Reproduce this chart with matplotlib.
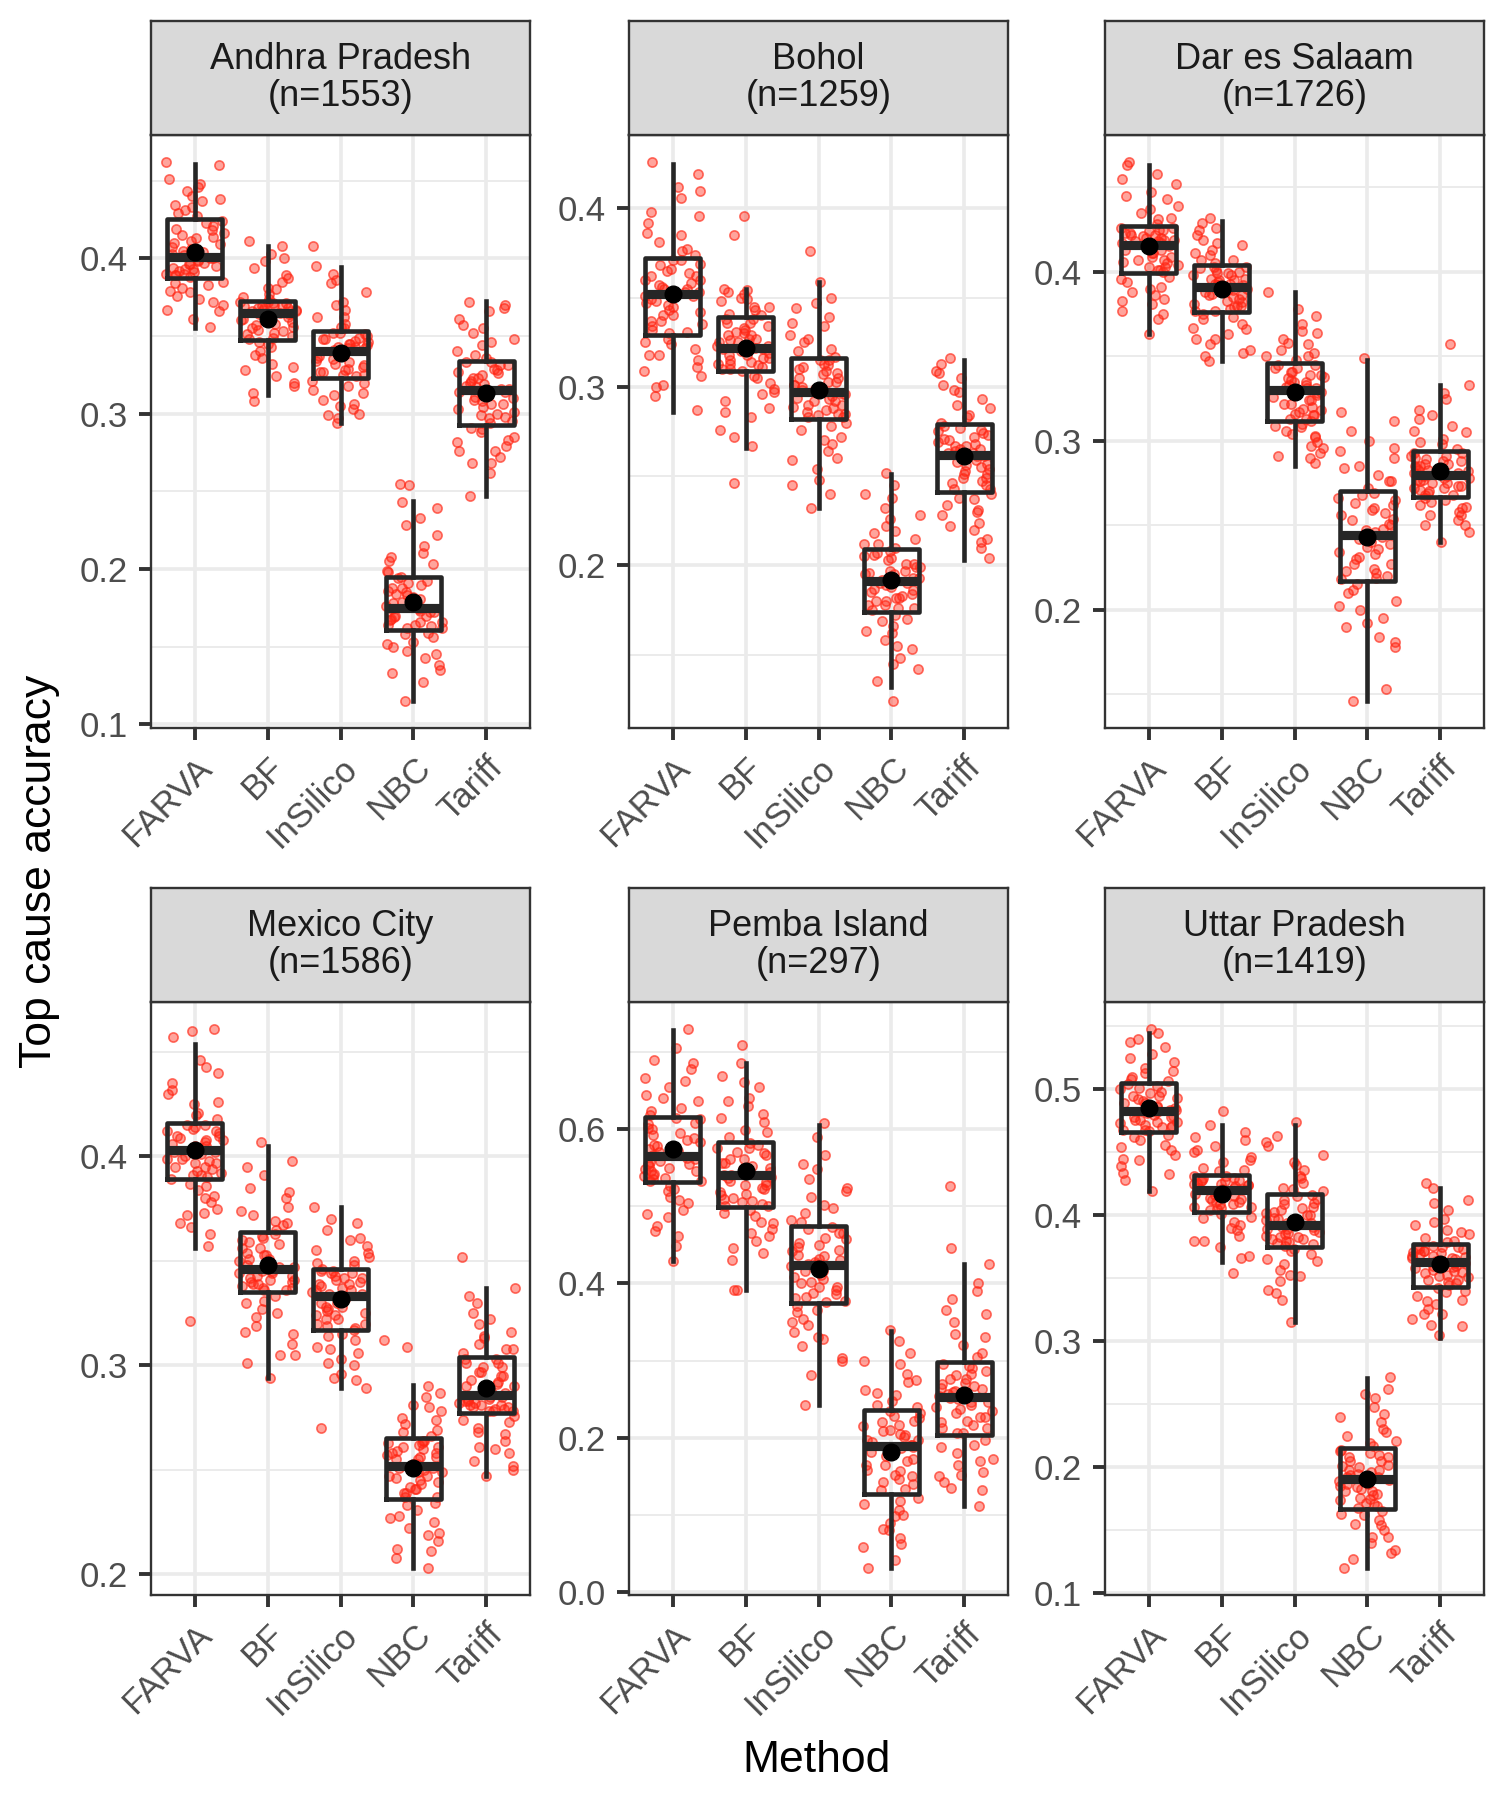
import numpy as np
import matplotlib.pyplot as plt

plt.rcParams['font.family'] = ['Liberation Sans', 'DejaVu Sans']

sites = ['Andhra Pradesh', 'Bohol', 'Dar es Salaam',
         'Mexico City', 'Pemba Island', 'Uttar Pradesh']
n_deaths = [1553, 1259, 1726, 1586, 297, 1419]
methods = ['FARVA', 'BF', 'InSilico', 'NBC', 'Tariff']

# box summaries: one row per site, one value per method
whis_lo = [[0.355, 0.312, 0.294, 0.115, 0.247],
           [0.286, 0.266, 0.232, 0.132, 0.203],
           [0.363, 0.347, 0.285, 0.146, 0.240],
           [0.356, 0.294, 0.289, 0.203, 0.247],
           [0.429, 0.391, 0.243, 0.031, 0.111],
           [0.419, 0.363, 0.315, 0.120, 0.303]]
q1 = [[0.387, 0.3475, 0.323, 0.161, 0.293],
      [0.329, 0.309, 0.282, 0.174, 0.241],
      [0.399, 0.376, 0.3115, 0.217, 0.267],
      [0.389, 0.335, 0.317, 0.236, 0.277],
      [0.531, 0.499, 0.375, 0.127, 0.203],
      [0.466, 0.403, 0.375, 0.167, 0.343]]
median = [[0.401, 0.365, 0.340, 0.175, 0.315],
          [0.352, 0.322, 0.297, 0.191, 0.262],
          [0.416, 0.391, 0.330, 0.244, 0.280],
          [0.403, 0.346, 0.333, 0.252, 0.286],
          [0.565, 0.540, 0.424, 0.189, 0.253],
          [0.483, 0.420, 0.392, 0.191, 0.363]]
q3 = [[0.425, 0.3725, 0.353, 0.195, 0.334],
      [0.372, 0.339, 0.316, 0.209, 0.279],
      [0.427, 0.404, 0.346, 0.270, 0.294],
      [0.416, 0.364, 0.346, 0.265, 0.304],
      [0.616, 0.584, 0.475, 0.236, 0.298],
      [0.505, 0.432, 0.417, 0.215, 0.377]]
whis_hi = [[0.461, 0.408, 0.3945, 0.2435, 0.3725],
           [0.425, 0.355, 0.359, 0.251, 0.315],
           [0.463, 0.430, 0.388, 0.348, 0.333],
           [0.454, 0.405, 0.376, 0.2905, 0.337],
           [0.729, 0.686, 0.605, 0.338, 0.425],
           [0.545, 0.472, 0.472, 0.2705, 0.422]]
means = [[0.404, 0.361, 0.339, 0.179, 0.313],
         [0.352, 0.322, 0.2985, 0.192, 0.261],
         [0.415, 0.390, 0.329, 0.243, 0.282],
         [0.403, 0.348, 0.332, 0.251, 0.289],
         [0.574, 0.546, 0.419, 0.182, 0.256],
         [0.485, 0.417, 0.3945, 0.191, 0.361]]

y_ticks = [[0.1, 0.2, 0.3, 0.4],
           [0.2, 0.3, 0.4],
           [0.2, 0.3, 0.4],
           [0.2, 0.3, 0.4],
           [0.0, 0.2, 0.4, 0.6],
           [0.1, 0.2, 0.3, 0.4, 0.5]]

# individual accuracies (thousandths), estimated from the jittered points
pts_andhra = [
    [462, 460, 451, 446, 443, 440, 437, 434, 431, 427, 424, 421, 419, 416, 414, 411, 409, 406, 404, 402,
     400, 399, 397, 396, 394, 393, 391, 390, 389, 388, 385, 383, 381, 378, 376, 374, 370, 366, 361, 356,
     448, 438, 433, 429, 423, 418, 415, 413, 410, 407, 405, 403, 400, 398, 396, 395, 393, 392, 390, 389,
     384, 379, 372, 367],
    [411, 408, 403, 398, 394, 389, 385, 381, 377, 374, 372, 371, 370, 369, 368, 368, 367, 366, 366, 365,
     364, 362, 360, 358, 356, 355, 353, 351, 350, 348, 346, 343, 340, 336, 332, 328, 324, 318, 313, 308,
     400, 387, 380, 375, 372, 371, 370, 369, 368, 367, 366, 365, 364, 363, 361, 359, 357, 354, 352, 349,
     345, 338, 330, 320],
    [408, 395, 390, 384, 378, 372, 367, 362, 358, 355, 352, 351, 349, 348, 347, 345, 344, 343, 342, 341,
     339, 338, 336, 334, 332, 330, 328, 327, 325, 324, 321, 318, 315, 312, 309, 306, 303, 300, 297, 294,
     386, 370, 362, 356, 352, 350, 348, 346, 345, 343, 342, 341, 339, 337, 335, 333, 331, 329, 327, 325,
     320, 313, 305, 299],
    [255, 254, 243, 239, 233, 222, 215, 208, 203, 198, 195, 192, 190, 188, 186, 184, 182, 180, 178, 176,
     174, 173, 172, 170, 169, 167, 166, 164, 163, 162, 159, 156, 153, 150, 147, 143, 138, 133, 127, 115,
     228, 210, 205, 199, 194, 191, 188, 185, 183, 181, 179, 177, 175, 174, 172, 170, 168, 166, 164, 162,
     158, 152, 145, 135],
    [372, 370, 366, 361, 357, 352, 348, 344, 340, 336, 333, 331, 329, 327, 325, 323, 321, 319, 317, 316,
     314, 312, 310, 308, 306, 304, 301, 299, 297, 294, 291, 288, 285, 282, 279, 276, 272, 268, 262, 247,
     368, 355, 346, 338, 333, 331, 328, 326, 323, 320, 318, 316, 314, 311, 309, 306, 303, 300, 298, 295,
     290, 283, 276, 268]]
pts_bohol = [
    [426, 419, 412, 406, 398, 392, 386, 381, 377, 374, 371, 369, 366, 364, 362, 360, 358, 356, 355, 353,
     351, 349, 347, 345, 342, 340, 337, 335, 332, 330, 327, 324, 321, 318, 315, 311, 306, 301, 295, 287,
     410, 396, 385, 376, 371, 368, 365, 362, 360, 357, 355, 353, 351, 348, 346, 343, 340, 337, 334, 331,
     325, 318, 309, 300],
    [396, 385, 355, 353, 352, 350, 348, 345, 343, 340, 338, 336, 334, 332, 330, 329, 327, 326, 325, 323,
     322, 321, 319, 318, 316, 315, 313, 312, 310, 309, 306, 302, 299, 296, 292, 288, 283, 276, 267, 246,
     354, 349, 345, 341, 338, 336, 333, 331, 329, 327, 325, 323, 321, 320, 318, 316, 314, 313, 311, 310,
     305, 297, 286, 272],
    [376, 359, 350, 344, 339, 334, 329, 325, 321, 317, 315, 313, 311, 309, 307, 305, 303, 301, 300, 298,
     296, 295, 293, 292, 290, 289, 287, 285, 284, 283, 280, 276, 272, 268, 264, 259, 254, 248, 240, 232,
     347, 336, 327, 320, 315, 312, 310, 308, 305, 303, 301, 299, 296, 294, 292, 290, 288, 286, 285, 283,
     278, 270, 260, 245],
    [252, 245, 238, 232, 226, 222, 218, 215, 212, 210, 207, 205, 203, 201, 199, 197, 196, 195, 193, 192,
     190, 189, 187, 185, 183, 182, 180, 178, 176, 175, 172, 169, 166, 162, 158, 153, 148, 142, 135, 124,
     240, 228, 219, 212, 208, 206, 204, 201, 199, 197, 195, 193, 190, 188, 186, 184, 182, 180, 178, 176,
     170, 163, 155, 145],
    [316, 313, 309, 305, 301, 297, 293, 288, 284, 280, 277, 275, 273, 271, 269, 268, 267, 265, 264, 263,
     261, 259, 257, 255, 253, 251, 249, 247, 245, 243, 240, 237, 234, 231, 228, 224, 220, 215, 210, 204,
     308, 298, 290, 283, 278, 276, 274, 272, 270, 267, 265, 263, 261, 258, 256, 254, 251, 249, 246, 243,
     238, 230, 222, 213]]
pts_dar = [
    [465, 463, 458, 452, 447, 443, 439, 435, 432, 428, 426, 425, 424, 423, 422, 421, 420, 419, 418, 417,
     415, 413, 411, 409, 407, 406, 404, 403, 401, 400, 397, 394, 391, 388, 386, 384, 381, 377, 372, 363,
     455, 445, 437, 431, 426, 425, 423, 422, 420, 419, 418, 417, 415, 413, 411, 409, 407, 405, 403, 401,
     396, 390, 383, 375],
    [432, 429, 426, 422, 419, 416, 413, 410, 407, 405, 403, 402, 400, 399, 398, 396, 395, 394, 393, 392,
     390, 389, 387, 386, 385, 383, 381, 380, 378, 377, 375, 372, 369, 366, 363, 360, 357, 354, 350, 347,
     425, 417, 411, 407, 403, 401, 399, 398, 396, 395, 393, 392, 390, 388, 386, 384, 382, 380, 379, 377,
     373, 367, 360, 352],
    [388, 374, 369, 364, 360, 357, 354, 352, 350, 348, 345, 343, 341, 339, 338, 336, 335, 333, 332, 331,
     328, 326, 324, 322, 320, 318, 316, 315, 313, 312, 310, 308, 306, 304, 302, 299, 296, 293, 290, 287,
     378, 365, 358, 350, 345, 343, 341, 339, 337, 335, 333, 331, 329, 327, 324, 322, 319, 317, 315, 313,
     309, 303, 297, 291],
    [349, 317, 306, 300, 294, 290, 285, 280, 276, 272, 268, 265, 262, 259, 256, 253, 250, 248, 246, 244,
     242, 239, 236, 233, 230, 227, 224, 222, 220, 218, 215, 210, 205, 200, 195, 190, 184, 178, 153, 146,
     312, 296, 284, 276, 269, 266, 263, 260, 257, 254, 251, 247, 243, 240, 237, 234, 231, 227, 223, 219,
     212, 202, 192, 181],
    [357, 333, 325, 318, 313, 309, 305, 301, 298, 295, 293, 291, 289, 288, 286, 285, 284, 283, 282, 281,
     279, 278, 277, 276, 275, 273, 272, 271, 269, 268, 266, 264, 262, 260, 258, 256, 253, 250, 246, 240,
     328, 315, 306, 299, 293, 291, 290, 288, 286, 285, 283, 281, 279, 278, 277, 275, 273, 272, 270, 268,
     265, 261, 256, 250]]
pts_mexico = [
    [461, 460, 457, 446, 440, 435, 430, 425, 421, 418, 415, 413, 412, 411, 410, 409, 408, 406, 405, 404,
     402, 400, 399, 398, 397, 395, 394, 392, 391, 389, 387, 384, 381, 378, 375, 372, 368, 363, 357, 321,
     443, 432, 426, 420, 415, 414, 412, 410, 408, 407, 405, 404, 402, 401, 399, 397, 395, 393, 391, 390,
     386, 380, 373, 366],
    [407, 398, 391, 385, 380, 376, 372, 369, 367, 365, 362, 360, 358, 356, 354, 353, 351, 350, 348, 347,
     345, 344, 343, 342, 341, 340, 339, 338, 337, 336, 333, 330, 327, 323, 319, 315, 310, 305, 301, 294,
     395, 383, 374, 368, 363, 361, 359, 356, 353, 351, 349, 347, 345, 344, 343, 341, 340, 339, 337, 336,
     331, 325, 316, 305],
    [376, 370, 365, 361, 357, 354, 352, 350, 348, 346, 345, 344, 343, 342, 340, 339, 338, 336, 335, 334,
     332, 330, 328, 327, 325, 324, 322, 320, 319, 317, 315, 312, 309, 306, 303, 300, 296, 293, 289, 270,
     368, 360, 355, 349, 345, 344, 342, 341, 339, 337, 336, 334, 332, 330, 328, 326, 324, 322, 320, 318,
     314, 308, 301, 294],
    [312, 309, 290, 285, 281, 278, 275, 272, 269, 266, 264, 263, 262, 261, 259, 258, 257, 256, 255, 253,
     251, 250, 249, 247, 246, 244, 242, 241, 239, 237, 234, 231, 228, 225, 222, 219, 216, 212, 208, 203,
     287, 280, 274, 268, 264, 263, 261, 260, 258, 256, 255, 253, 251, 249, 247, 245, 243, 241, 239, 237,
     233, 227, 220, 211],
    [352, 337, 330, 325, 320, 316, 313, 310, 308, 306, 303, 301, 299, 297, 295, 293, 291, 290, 288, 287,
     285, 284, 283, 282, 281, 281, 280, 279, 278, 278, 276, 273, 270, 267, 264, 261, 258, 254, 250, 247,
     333, 322, 314, 308, 303, 301, 299, 297, 295, 292, 290, 287, 285, 284, 283, 282, 281, 280, 279, 278,
     274, 268, 260, 252]]
pts_pemba = [
    [730, 705, 690, 678, 667, 655, 645, 636, 627, 619, 613, 607, 601, 595, 589, 584, 579, 574, 570, 567,
     562, 558, 555, 552, 549, 546, 542, 539, 536, 533, 527, 520, 512, 504, 495, 486, 475, 462, 448, 429,
     686, 662, 640, 624, 614, 608, 600, 593, 586, 578, 572, 567, 563, 559, 555, 550, 546, 541, 537, 533,
     522, 508, 490, 468],
    [709, 686, 669, 655, 641, 630, 620, 610, 599, 590, 580, 575, 570, 566, 561, 556, 552, 548, 545, 541,
     537, 532, 528, 524, 519, 515, 511, 507, 503, 500, 495, 488, 478, 470, 462, 455, 446, 430, 391, 391,
     661, 636, 614, 596, 582, 576, 569, 562, 556, 550, 545, 541, 538, 533, 528, 522, 516, 510, 505, 500,
     492, 480, 465, 440],
    [608, 590, 566, 548, 535, 524, 512, 502, 492, 482, 471, 465, 459, 453, 447, 442, 437, 432, 428, 425,
     421, 416, 411, 406, 401, 396, 391, 386, 381, 377, 371, 363, 354, 346, 337, 328, 319, 303, 281, 243,
     555, 520, 498, 480, 473, 466, 458, 450, 443, 436, 430, 425, 422, 416, 409, 402, 395, 388, 382, 376,
     366, 350, 330, 300],
    [340, 325, 310, 296, 283, 272, 262, 255, 248, 240, 232, 226, 220, 215, 210, 205, 201, 197, 194, 191,
     187, 182, 176, 170, 164, 158, 152, 146, 140, 132, 122, 114, 106, 98, 90, 82, 70, 58, 42, 31,
     300, 275, 258, 242, 234, 228, 222, 216, 209, 203, 197, 191, 188, 181, 173, 165, 157, 150, 142, 134,
     118, 100, 80, 62],
    [527, 446, 425, 400, 380, 365, 350, 335, 320, 305, 293, 287, 281, 276, 271, 267, 263, 260, 257, 255,
     250, 246, 242, 237, 232, 227, 222, 217, 212, 206, 197, 188, 180, 172, 164, 155, 152, 143, 132, 111,
     390, 360, 330, 310, 296, 290, 283, 276, 270, 264, 259, 254, 252, 246, 240, 234, 227, 220, 213, 206,
     190, 170, 150, 135]]
pts_uttar = [
    [548, 545, 540, 534, 528, 522, 517, 513, 510, 507, 503, 500, 497, 495, 493, 491, 489, 487, 485, 484,
     481, 479, 478, 476, 474, 473, 471, 470, 468, 467, 464, 460, 456, 452, 448, 444, 439, 434, 428, 419,
     538, 525, 515, 508, 504, 501, 498, 495, 492, 489, 486, 484, 482, 480, 478, 476, 474, 472, 470, 468,
     462, 454, 445, 433],
    [483, 472, 466, 460, 455, 450, 446, 442, 438, 435, 431, 430, 428, 427, 426, 425, 424, 423, 422, 421,
     419, 417, 416, 414, 412, 411, 409, 407, 406, 404, 401, 398, 395, 392, 388, 384, 380, 375, 366, 354,
     462, 452, 444, 436, 431, 430, 428, 427, 425, 424, 422, 421, 419, 417, 415, 413, 411, 409, 407, 405,
     399, 390, 380, 368],
    [474, 463, 455, 448, 442, 436, 431, 426, 422, 419, 415, 412, 409, 406, 404, 402, 400, 398, 396, 394,
     391, 389, 388, 386, 384, 383, 381, 380, 378, 376, 373, 369, 365, 361, 357, 353, 348, 341, 333, 315,
     458, 440, 430, 421, 416, 413, 410, 407, 403, 400, 397, 394, 391, 389, 387, 385, 383, 381, 379, 377,
     372, 364, 352, 338],
    [272, 262, 255, 248, 242, 236, 230, 225, 221, 217, 213, 210, 208, 205, 202, 200, 198, 196, 194, 192,
     189, 187, 185, 183, 181, 179, 176, 174, 171, 168, 165, 162, 158, 154, 150, 145, 140, 134, 127, 120,
     258, 240, 228, 219, 214, 211, 208, 205, 201, 198, 195, 192, 190, 187, 184, 181, 178, 175, 172, 169,
     163, 155, 145, 132],
    [426, 422, 412, 404, 397, 392, 388, 385, 382, 379, 375, 374, 373, 372, 371, 369, 368, 367, 366, 365,
     362, 360, 359, 357, 355, 353, 351, 349, 347, 345, 342, 339, 336, 333, 330, 326, 322, 318, 313, 305,
     410, 395, 387, 380, 376, 375, 373, 372, 370, 368, 366, 364, 362, 360, 358, 356, 354, 352, 349, 346,
     340, 332, 322, 312]]
points = [pts_andhra, pts_bohol, pts_dar, pts_mexico, pts_pemba, pts_uttar]

W, H = 1500, 1800
fig = plt.figure(figsize=(W / 100, H / 100), dpi=100)

col_left = [151, 629, 1105]
panel_w = 379
row_strip_top = [21, 888]
strip_h = 114
panel_h = 593

ink = '#262626'
grid_col = '#EBEBEB'
xs = np.arange(1, 6)

for k, site in enumerate(sites):
    r, c = divmod(k, 3)
    top = row_strip_top[r] + strip_h
    ax = fig.add_axes([col_left[c] / W, 1 - (top + panel_h) / H, panel_w / W, panel_h / H])

    vals = [np.array(v) / 1000 for v in points[k]]
    lo = min(min(v.min() for v in vals), min(whis_lo[k]))
    hi = max(max(v.max() for v in vals), max(whis_hi[k]))
    pad = 0.05 * (hi - lo)
    ax.set_ylim(lo - pad, hi + pad)
    ax.set_xlim(0.4, 5.6)

    ticks = y_ticks[k]
    step = ticks[1] - ticks[0]
    minors = np.arange(ticks[0] - step / 2, hi + pad, step)
    for m in minors:
        ax.axhline(m, color=grid_col, lw=1.4, zorder=0)
    for t in ticks:
        ax.axhline(t, color=grid_col, lw=2.6, zorder=0)
    for x in xs:
        ax.axvline(x, color=grid_col, lw=2.6, zorder=0)

    # jittered points, horizontal spread +-0.4 like geom_jitter
    for j, v in enumerate(vals):
        idx = np.arange(len(v))
        off = ((np.sin(idx * 12.9898 + j * 78.233 + k * 3.7) * 43758.5453) % 1.0 - 0.5) * 0.8
        ax.scatter(xs[j] + off, v, s=44, facecolor=(1, 0.15, 0.08, 0.42),
                   edgecolor=(1, 0.15, 0.08, 0.65), linewidths=1.2, zorder=2)

    stats = [dict(whislo=whis_lo[k][j], q1=q1[k][j], med=median[k][j],
                  q3=q3[k][j], whishi=whis_hi[k][j]) for j in range(5)]
    ax.bxp(stats, positions=xs, widths=0.75, showfliers=False, showcaps=False,
           boxprops=dict(color=ink, lw=3.3),
           whiskerprops=dict(color=ink, lw=3.3),
           medianprops=dict(color=ink, lw=6.6, solid_capstyle='butt'),
           manage_ticks=False, zorder=3)
    ax.plot(xs, means[k], 'o', color='black', ms=12, zorder=4)

    ax.set_yticks(ticks)
    ax.set_yticklabels([f'{t:.1f}' for t in ticks])
    ax.set_xticks(xs)
    ax.set_xticklabels(methods, rotation=45, ha='right', va='top', rotation_mode='anchor')
    ax.tick_params(colors='#333333', labelcolor='#4D4D4D', labelsize=25,
                   width=2.8, length=8.6, pad=8)
    ax.grid(False)
    for sp in ax.spines.values():
        sp.set_color('#333333')
        sp.set_linewidth(1.7)

    # facet strip
    sax = fig.add_axes([col_left[c] / W, 1 - top / H, panel_w / W, strip_h / H])
    sax.set_facecolor('#D9D9D9')
    sax.set_xticks([])
    sax.set_yticks([])
    for sp in sax.spines.values():
        sp.set_color('#333333')
        sp.set_linewidth(1.7)
    sax.text(0.5, 0.5, f'{site}\n(n={n_deaths[k]})', ha='center', va='center',
             fontsize=26, color='#1A1A1A', linespacing=1.1, transform=sax.transAxes)

fig.text(40 / W, 1 - 871 / H, 'Top cause accuracy', rotation=90,
         ha='center', va='center', fontsize=32)
fig.text(817 / W, 1 - 1760 / H, 'Method', ha='center', va='center', fontsize=32)

fig.savefig('out.png', dpi=100, facecolor='white')
